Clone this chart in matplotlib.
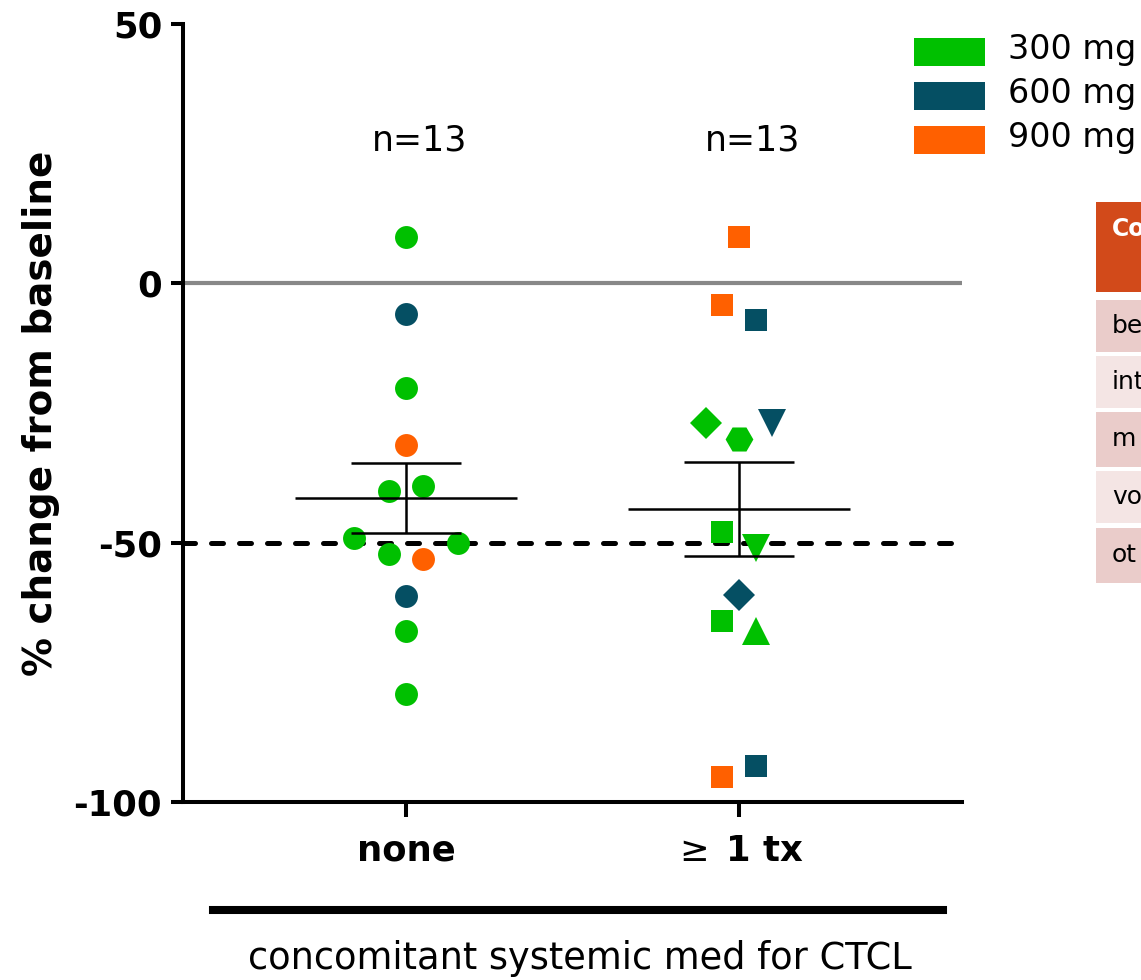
import numpy as np
import matplotlib
matplotlib.use("Agg")
import matplotlib.pyplot as plt
from matplotlib.patches import Rectangle
from matplotlib.lines import Line2D

# tumour burden change per patient, grouped by concomitant systemic therapy
groups = ["none", r"$\geq\;$1 tx"]
doses = [300, 600, 900]
dose_labels = ["300 mg", "600 mg", "900 mg"]
dose_colors = {300: "#00c000", 600: "#054f63", 900: "#ff6000"}

none_change = [9.0, -6.0, -20.1, -31.1, -40.1, -39.0, -49.1, -52.2, -50.1, -53.1, -60.2, -67.1, -79.2]
none_dose = [300, 600, 300, 900, 300, 300, 300, 300, 300, 900, 600, 300, 300]
none_marker = ["o"] * 13
none_jitter = [0, 0, 0, 0, -0.05, 0.05, -0.155, -0.05, 0.155, 0.05, 0, 0, 0]

tx_change = [9.0, -4.1, -7.0, -27.0, -30.0, -27.0, -48.0, -51.1, -60.0, -65.1, -67.1, -93.1, -95.1]
tx_dose = [900, 900, 600, 300, 300, 600, 300, 300, 600, 300, 300, 600, 900]
tx_marker = ["s", "s", "s", "D", "H", "v", "s", "v", "D", "s", "^", "s", "s"]
tx_jitter = [0, -0.052, 0.05, -0.10, 0, 0.10, -0.052, 0.05, 0, -0.052, 0.05, 0.05, -0.052]

# side table (only its left edge falls inside the figure)
table_header = "Co"
table_rows = ["be", "int", "m", "vo", "ot"]

W, H = 1141, 980
MS = {"o": 16.5, "s": 16.5, "D": 16.8, "v": 20, "^": 20, "H": 20}

plt.rcParams["font.family"] = ["DejaVu Sans"]
fig = plt.figure(figsize=(W / 100, H / 100), dpi=100)
ax = fig.add_axes([183 / W, 1 - 802 / H, (962 - 183) / W, (802 - 24) / H])


def fx(x):
    return x / W


def fy(y):
    return 1 - y / H


series = [
    (none_change, none_dose, none_marker, none_jitter),
    (tx_change, tx_dose, tx_marker, tx_jitter),
]

ax.axhline(0, color="#888888", lw=3, zorder=1)
ax.axhline(-50, color="black", lw=3.6, dashes=(2.4, 3.2),
           dash_capstyle="round", zorder=2)

for i, (vals, dose, mk, jit) in enumerate(series):
    for v, d, m, j in zip(vals, dose, mk, jit):
        ax.plot([i + j], [v], ls="none", marker=m, ms=MS[m], mew=0,
                color=dose_colors[d], zorder=3)
    arr = np.array(vals)
    mean = arr.mean()
    sem = arr.std(ddof=1) / np.sqrt(len(arr))
    ax.hlines(mean, i - 0.333, i + 0.333, color="black", lw=1.8, zorder=4)
    ax.hlines([mean - sem, mean + sem], i - 0.165, i + 0.165,
              color="black", lw=1.8, zorder=4)
    ax.vlines(i, mean - sem, mean + sem, color="black", lw=1.8, zorder=4)
    ax.text(i + 0.04, 27.5, f"n={len(vals)}", ha="center", va="center",
            fontsize=25)

ax.set_xlim(-0.67, 1.67)
ax.set_ylim(-100, 50)
ax.set_yticks([-100, -50, 0, 50])
ax.set_yticklabels(["-100", "-50", "0", "50"], fontsize=25.5, fontweight="bold")
ax.set_xticks([0, 1])
ax.set_xticklabels(groups, fontsize=25.5, fontweight="bold")
ax.tick_params(axis="y", width=2.9, length=9, pad=6)
ax.tick_params(axis="x", width=2.9, length=11, pad=12)
for side in ["top", "right"]:
    ax.spines[side].set_visible(False)
for side in ["left", "bottom"]:
    ax.spines[side].set_linewidth(2.9)
ax.set_ylabel("% change from baseline", fontsize=28, fontweight="bold",
              labelpad=10)

# bracket and caption under the groups
fig.add_artist(Line2D([fx(213), fx(943)], [fy(910), fy(910)],
                      transform=fig.transFigure, color="black", lw=5.8))
fig.text(fx(580), fy(958), "concomitant systemic med for CTCL",
         ha="center", va="center", fontsize=26.5)

# dose legend
for k, (d, lab) in enumerate(zip(doses, dose_labels)):
    yc = 52 + 44 * k
    fig.add_artist(Rectangle((fx(914), fy(yc + 14)), fx(71), 28 / H,
                             transform=fig.transFigure,
                             facecolor=dose_colors[d], edgecolor="none"))
    fig.text(fx(1008), fy(yc - 2), lab, ha="left", va="center", fontsize=24)

# side table
fig.add_artist(Rectangle((fx(1096), fy(292)), fx(80), 90 / H,
                         transform=fig.transFigure,
                         facecolor="#d24a1a", edgecolor="none"))
fig.text(fx(1112), fy(229), table_header, ha="left", va="center",
         fontsize=17, fontweight="bold", color="white")
row_spans = [(300, 352), (356, 408), (412, 467), (471, 523), (528, 583)]
for k, (txt, (y0, y1)) in enumerate(zip(table_rows, row_spans)):
    col = "#eaccca" if k % 2 == 0 else "#f4e5e4"
    fig.add_artist(Rectangle((fx(1096), fy(y1)), fx(80), (y1 - y0) / H,
                             transform=fig.transFigure,
                             facecolor=col, edgecolor="none"))
    fig.text(fx(1112), fy((y0 + y1) / 2), txt, ha="left", va="center",
             fontsize=18, color="black")

fig.savefig("out.png", dpi=100)
